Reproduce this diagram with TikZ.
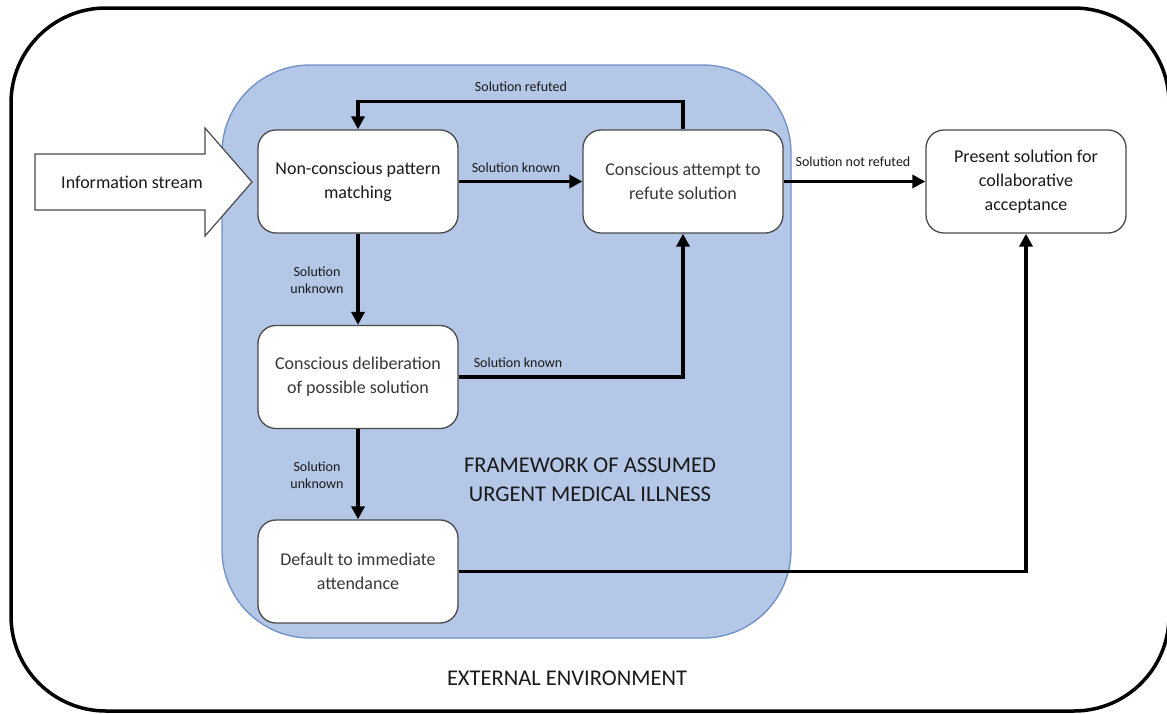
\documentclass[tikz,border=0pt]{standalone}
\usepackage{fontspec}
\setmainfont{Carlito}
\usetikzlibrary{arrows.meta}
\definecolor{fw}{HTML}{B4C7E7}
\definecolor{fwb}{HTML}{6F8FC6}
\definecolor{bxb}{HTML}{4A4A4A}
\definecolor{txd}{HTML}{1A1A1A}
\definecolor{txg}{HTML}{383838}
\begin{document}
\begin{tikzpicture}[x=1pt,y=-1pt,
  stepbox/.style={draw=bxb, line width=1.3pt, fill=white, rounded corners=18pt,
    minimum width=200pt, minimum height=103pt, align=center,
    font=\fontsize{18}{24}\selectfont, inner sep=2pt},
  conn/.style={line width=3.3pt, line join=miter, -{Triangle[length=13pt,width=13pt]}},
  lbl/.style={font=\fontsize{14}{17}\selectfont, align=center, text=txd, inner sep=0pt},
  big/.style={font=\fontsize{22.5}{29}\selectfont, align=center, text=txd, inner sep=0pt}]
\useasboundingbox (0,0) rectangle (1167,713);
% outer environment
\draw[line width=3.5pt, rounded corners=95pt] (11,8) rectangle (1169,711);
% framework region
\draw[fill=fw, draw=fwb, line width=1.3pt, rounded corners=88pt] (222,65) rectangle (791,638);
% information stream arrow
\draw[draw=bxb, fill=white, line width=1.2pt, line join=miter]
  (35,154) -- (205,154) -- (205,128) -- (252,182) -- (205,236) -- (205,210) -- (35,210) -- cycle;
\node[font=\fontsize{18}{24}\selectfont, text=txd] (info) at (132,182) {Information stream};
% boxes
\node[stepbox, text=txd] (nc) at (358,181.5) {Non-conscious pattern\\matching};
\node[stepbox, text=txg] (ca) at (683,181.5) {Conscious attempt to\\refute solution};
\node[stepbox, text=txg] (cd) at (358,377) {Conscious deliberation\\of possible solution};
\node[stepbox, text=txg] (df) at (358,571.5) {Default to immediate\\attendance};
\node[stepbox, text=txd] (ps) at (1026,181.5) {Present solution for\\collaborative\\acceptance};
% connectors
\draw[conn] (nc.east) -- (ca.west);
\draw[conn] (ca.north) -- ++(0,-28) -| (nc.north);
\draw[conn] (nc.south) -- (cd.north);
\draw[conn] (cd.east) -| (ca.south);
\draw[conn] (cd.south) -- (df.north);
\draw[conn] (df.east) -| (ps.south);
\draw[conn] (ca.east) -- (ps.west);
% labels
\node[lbl] (l1) at (521,87) {Solution refuted};
\node[lbl] (l2) at (516,168) {Solution known};
\node[lbl] (l3) at (317,280) {Solution\\unknown};
\node[lbl] (l4) at (518,363) {Solution known};
\node[lbl] (l5) at (317,475) {Solution\\unknown};
\node[lbl] (l6) at (853,162) {Solution not refuted};
\node[big] (fwt) at (590,480) {FRAMEWORK OF ASSUMED\\URGENT MEDICAL ILLNESS};
\node[big] (env) at (567,678) {EXTERNAL ENVIRONMENT};
\end{tikzpicture}
\end{document}
